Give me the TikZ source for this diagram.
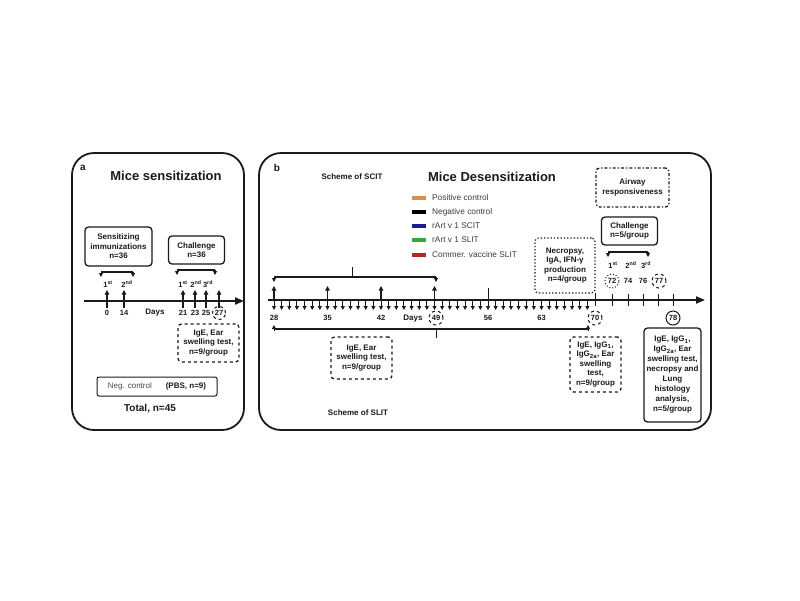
\documentclass[tikz,border=0pt]{standalone}
\usepackage{fontspec}
\setmainfont{Liberation Sans}
\usetikzlibrary{arrows.meta}
\definecolor{legorange}{HTML}{D9904A}
\definecolor{legblue}{HTML}{1C1C8C}
\definecolor{leggreen}{HTML}{3BA53B}
\definecolor{legred}{HTML}{B02828}
\definecolor{ink}{HTML}{1A1A1A}
\begin{document}
\begin{tikzpicture}[x=1pt,y=-1pt,
  panel/.style={draw=ink, line width=1.8pt, rounded corners=22pt},
  txt/.style={text=ink, font=\bfseries\fontsize{8}{9.5}\selectfont, inner sep=0pt, align=center},
  daylab/.style={text=ink, font=\bfseries\fontsize{7.5}{9}\selectfont, inner sep=0pt},
  title/.style={text=ink, font=\bfseries\fontsize{13}{15}\selectfont, inner sep=0pt},
  panlab/.style={text=ink, font=\bfseries\fontsize{10}{12}\selectfont, inner sep=0pt},
  legtxt/.style={text=ink!85, font=\fontsize{8.3}{10}\selectfont, inner sep=0pt, anchor=west},
  box/.style={draw=ink, line width=1.3pt, rounded corners=3.5pt, text=ink, align=center, inner sep=1pt, font=\bfseries\fontsize{8}{9.5}\selectfont},
  dbox/.style={box, dashed},
  dotbox/.style={box, dotted, line width=1.2pt},
  ddbox/.style={box, dash dot},
  axis/.style={draw=ink, line width=1.9pt, -{Triangle[length=9pt,width=7pt]}},
  uarr/.style={draw=ink, line width=1.1pt, -{Triangle[length=4.5pt,width=4.5pt]}},
  darr/.style={draw=ink, line width=0.9pt, -{Triangle[length=4pt,width=4pt]}},
  brk/.style={draw=ink, line width=1.3pt},
  tick/.style={draw=ink, line width=1pt},
  circ/.style={circle, draw=ink, line width=1pt, inner sep=0pt, minimum size=14pt, text=ink, font=\bfseries\fontsize{7.5}{9}\selectfont},
  legbar/.style={line width=4pt}
]
\useasboundingbox (0,0) rectangle (800,600);
\fill[white] (0,0) rectangle (800,600);

% ================= Panel a =================
\draw[panel] (72,153) rectangle (244,430);
\node[panlab] (la) at (83,168) {a};
\node[title] (ta) at (166,176) {Mice sensitization};

\node[box, minimum width=67pt, minimum height=39pt] (sens) at (118.5,246.5) {Sensitizing\\immunizations\\n=36};
\node[box, minimum width=56pt, minimum height=28pt] (chala) at (196.5,250) {Challenge\\n=36};

% brackets
\coordinate (b1l) at (101,272); \coordinate (b1r) at (133,272);
\draw[brk] (b1l) -- (b1r);
\draw[darr] (b1l) -- ++(0,5); \draw[darr] (b1r) -- ++(0,5);
\coordinate (b2l) at (177,270); \coordinate (b2r) at (215,270);
\draw[brk] (b2l) -- (b2r);
\draw[darr] (b2l) -- ++(0,5); \draw[darr] (b2r) -- ++(0,5);

\node[daylab] (o1) at (108,284) {1\textsuperscript{st}};
\node[daylab] (o2) at (127,284) {2\textsuperscript{nd}};
\node[daylab] (o3) at (183,284) {1\textsuperscript{st}};
\node[daylab] (o4) at (196,284) {2\textsuperscript{nd}};
\node[daylab] (o5) at (208,284) {3\textsuperscript{rd}};

\coordinate (axaS) at (84,301); \coordinate (axaE) at (244,301);
\draw[axis] (axaS) -- (axaE);
\foreach \x in {107,124,183,195,206,219} {
  \draw[uarr] (\x,308) -- (\x,290);
}
\node[daylab] (d0) at (107,313) {0};
\node[daylab] (d14) at (124,313) {14};
\node[daylab, font=\bfseries\fontsize{8}{9}\selectfont] (daysa) at (155,313) {Days};
\node[daylab] (d21) at (183,313) {21};
\node[daylab] (d23) at (195,313) {23};
\node[daylab] (d25) at (206,313) {25};
\node[circ, dashed, minimum size=13pt] (d27) at (219,313) {27};

\node[dbox, minimum width=61pt, minimum height=38pt] (ige1) at (208.5,343) {IgE, Ear\\swelling test,\\n=9/group};
\node[box, rounded corners=2pt, line width=1pt, minimum width=120pt, minimum height=19pt] (neg) at (157,386.5) {\mdseries\color{ink!80}Neg. control\hspace{14pt}\bfseries\color{ink}(PBS, n=9)};
\node[panlab] (tot) at (150,409) {Total, n=45};

% ================= Panel b =================
\draw[panel] (259,153) rectangle (711,430);
\node[panlab] (lb) at (277,168) {b};
\node[txt] (scit) at (352,177) {Scheme of SCIT};
\node[title] (tb) at (492,177) {Mice Desensitization};

% legend
\draw[legbar, legorange] (412,198) -- (426,198);
\draw[legbar, black] (412,212) -- (426,212);
\draw[legbar, legblue] (412,226) -- (426,226);
\draw[legbar, leggreen] (412,240) -- (426,240);
\draw[legbar, legred] (412,255) -- (426,255);
\node[legtxt] (l1) at (432,198) {Positive control};
\node[legtxt] (l2) at (432,212) {Negative control};
\node[legtxt] (l3) at (432,226) {rArt v 1 SCIT};
\node[legtxt] (l4) at (432,240) {rArt v 1 SLIT};
\node[legtxt] (l5) at (432,255) {Commer. vaccine SLIT};

% SCIT bracket
\coordinate (s1) at (274,277); \coordinate (s2) at (436,277);
\draw[brk] (s1) -- (s2);
\draw[darr] (s1) -- ++(0,5); \draw[darr] (s2) -- ++(0,5);
\draw[tick] (352,277) -- (352,267);

% axis
\coordinate (axbS) at (268,300); \coordinate (axbE) at (705,300);
\draw[axis] (axbS) -- (axbE);
\foreach \d in {28,...,69} {
  \draw[darr] ({274+(\d-28)*7.643},300) -- ++(0,10);
}
\foreach \x in {274,327.5,381,434.5} {
  \draw[uarr] (\x,300) -- (\x,286);
}
\draw[tick] (488,300) -- (488,288);
\draw[tick] (595,306) -- (595,293);
\foreach \x in {612,628,643,658,673} {
  \draw[tick] (\x,294) -- (\x,306);
}

% day labels
\node[daylab] (e28) at (274,318) {28};
\node[daylab] (e35) at (327.5,318) {35};
\node[daylab] (e42) at (381,318) {42};
\node[daylab, font=\bfseries\fontsize{8}{9}\selectfont] (daysb) at (413,319) {Days};
\node[circ, dashed] (e49) at (436,318) {49};
\node[daylab] (e56) at (488,318) {56};
\node[daylab] (e63) at (541.5,318) {63};
\node[circ, dashed] (e70) at (595,318) {70};
\node[circ] (e78) at (673,318) {78};

% SLIT bracket
\coordinate (t1) at (274,329); \coordinate (t2) at (588,329);
\draw[brk] (t1) -- (t2);
\draw[darr] (274,331) -- (274,325);
\draw[darr] (588,331) -- (588,325);
\draw[tick] (436,329) -- (436,338);

\node[dbox, minimum width=61pt, minimum height=42pt] (ige2) at (361.5,358) {IgE, Ear\\swelling test,\\n=9/group};
\node[txt] (slit) at (358,413) {Scheme of SLIT};

% right part
\node[dotbox, minimum width=60pt, minimum height=55pt] (necro) at (565,265.5) {Necropsy,\\IgA, IFN-γ\\production\\\ \ n=4/group};
\node[ddbox, minimum width=73pt, minimum height=39pt] (airway) at (632.5,187.5) {Airway\\responsiveness};
\node[box, minimum width=56pt, minimum height=28pt] (chalb) at (629.5,231) {Challenge\\n=5/group};

\coordinate (c1) at (608,252); \coordinate (c2) at (648,252);
\draw[brk] (c1) -- (c2);
\draw[darr] (c1) -- ++(0,5); \draw[darr] (c2) -- ++(0,5);
\node[daylab] (p1) at (613,265) {1\textsuperscript{st}};
\node[daylab] (p2) at (631,265) {2\textsuperscript{nd}};
\node[daylab] (p3) at (646,265) {3\textsuperscript{rd}};
\node[circ, dotted] (f72) at (612,281) {72};
\node[daylab] (f74) at (628,281) {74};
\node[daylab] (f76) at (643,281) {76};
\node[circ, dashed] (f77) at (659,281) {77};

\node[dbox, minimum width=51pt, minimum height=55pt] (ige3) at (595.5,364.5) {IgE, IgG\textsubscript{1},\\IgG\textsubscript{2a}, Ear\\swelling\\test,\\n=9/group};
\node[box, minimum width=57pt, minimum height=94pt, font=\bfseries\fontsize{8}{10}\selectfont] (ige4) at (672.5,375) {IgE, IgG\textsubscript{1},\\IgG\textsubscript{2a}, Ear\\swelling test,\\necropsy and\\Lung\\histology\\analysis,\\n=5/group};
\end{tikzpicture}
\end{document}
